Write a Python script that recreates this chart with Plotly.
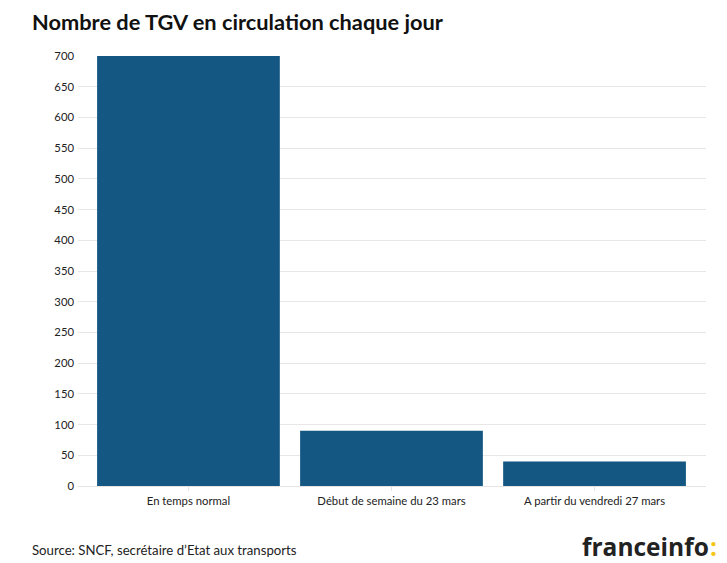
import plotly.graph_objects as go

categories = ["En temps normal", "Début de semaine du 23 mars", "A partir du vendredi 27 mars"]
values = [700, 90, 40]
y_ticks = list(range(0, 701, 50))

FONT = "Lato"
fig = go.Figure(go.Bar(x=categories, y=values, marker=dict(color="#135782", line=dict(width=0)),
                       width=0.9, hoverinfo="x+y"))
fig.update_layout(
    width=719, height=555, autosize=False,
    margin=dict(l=70, r=21, t=48, b=77),
    paper_bgcolor="white", plot_bgcolor="white",
    font=dict(family=FONT, size=11, color="#222222"),
    showlegend=False,
    xaxis=dict(type="category", range=[-0.544, 2.549], showgrid=False, showline=True,
               linecolor="#e6e3e3", linewidth=1, ticks="outside", ticklen=4, tickcolor="#e6e3e3",
               tickfont=dict(size=11.3, family=FONT, color="#222222"), fixedrange=True),
    yaxis=dict(range=[0, 700], tickvals=y_ticks, showgrid=True, gridcolor="#e8e6e6", gridwidth=1,
               zeroline=False, ticks="", ticklabelstandoff=3,
               tickfont=dict(size=11.3, family=FONT, color="#222222"), fixedrange=True),
    annotations=[
        dict(text="<b>Nombre de TGV en circulation chaque jour</b>", xref="paper", yref="paper",
             x=(32-78)/628, y=1+(56-21)/430, xanchor="left", yanchor="middle", showarrow=False,
             xshift=-2, font=dict(size=21.8, family=FONT, color="#111111")),
        dict(text="Source: SNCF, secrétaire d’Etat aux transports", xref="paper", yref="paper",
             x=(32-78)/628, y=-(550-486)/430, xanchor="left", yanchor="middle", showarrow=False,
             xshift=-2, font=dict(size=13.2, family=FONT, color="#222222")),
        dict(text="<b>franceinfo</b>", xref="paper", yref="paper",
             x=(709-78)/628, y=-(546-486)/430, xanchor="right", yanchor="middle", showarrow=False,
             xshift=2, font=dict(size=24.5, family="Open Sans", color="#222222")),
        dict(text="<b>:</b>", xref="paper", yref="paper",
             x=(717-78)/628, y=-(546-486)/430, xanchor="right", yanchor="middle", showarrow=False,
             xshift=2, font=dict(size=24.5, family="Open Sans", color="#f5c518")),
    ],
)
fig.write_html("out.html")
